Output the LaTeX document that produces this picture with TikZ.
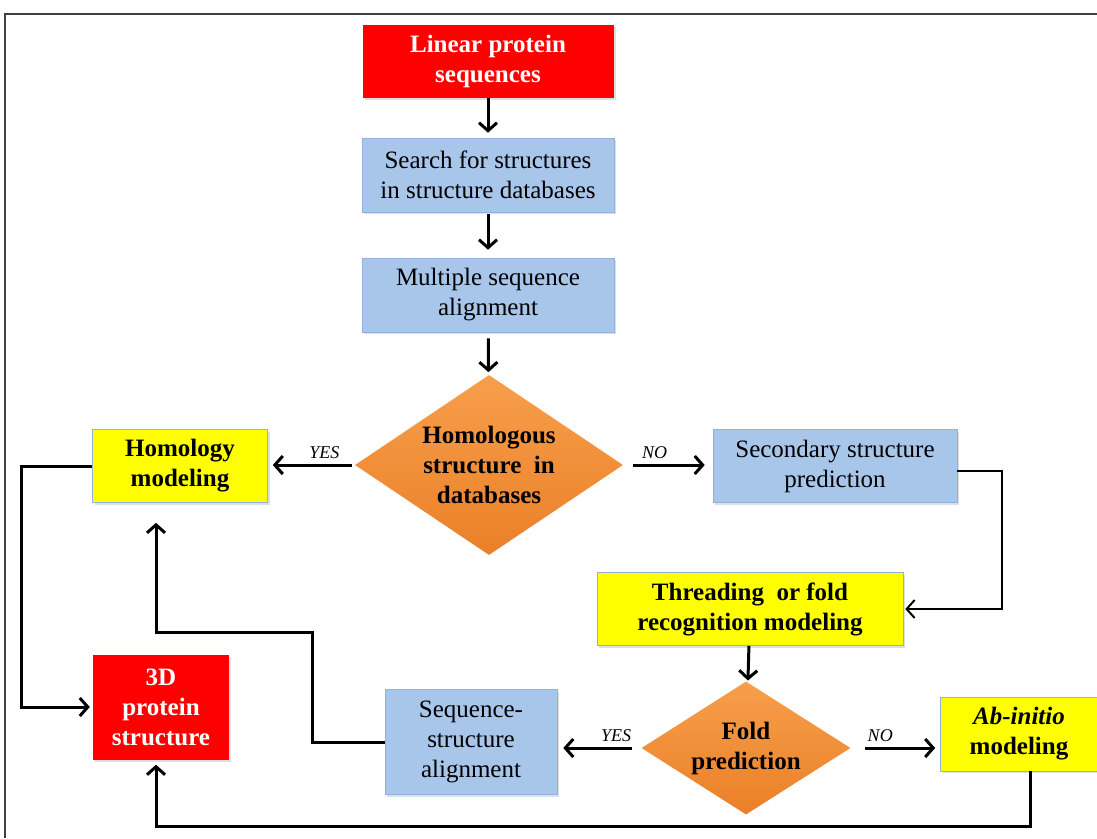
\documentclass[tikz,border=0pt]{standalone}
\usepackage{fontspec}
\setmainfont{Liberation Serif}
\usetikzlibrary{shapes.geometric, arrows.meta, positioning, shadows}
\definecolor{seqred}{RGB}{255, 0, 0}
\definecolor{stepblue}{RGB}{168, 197, 234}
\definecolor{edgeblue}{RGB}{145, 178, 218}
\definecolor{modyellow}{RGB}{255, 255, 0}
\definecolor{decorange}{RGB}{247, 150, 60}
\definecolor{decdark}{RGB}{234, 128, 40}

\tikzset{
  box/.style={rectangle, inner sep=2pt, align=center,
    font=\fontsize{25}{30}\selectfont,
    drop shadow={opacity=0.25, shadow xshift=2pt, shadow yshift=-2pt}},
  redbox/.style={box, fill=seqred, text=white, font=\fontsize{25}{30}\selectfont\bfseries},
  bluebox/.style={box, fill=stepblue, draw=edgeblue, line width=0.6pt},
  yellowbox/.style={box, fill=modyellow, draw=edgeblue, line width=0.6pt, font=\fontsize{25}{30}\selectfont\bfseries},
  decision/.style={diamond, inner sep=0pt, align=center, top color=decorange!92!white, bottom color=decdark,
    font=\fontsize{25}{30}\selectfont\bfseries},
  arr/.style={-{Straight Barb[length=8pt, width=18pt]}, line width=3pt},
  backlink/.style={-{Straight Barb[length=8pt, width=18pt]}, line width=3pt},
  lbl/.style={font=\fontsize{18}{20}\selectfont\itshape, inner sep=5pt}
}

\begin{document}
\begin{tikzpicture}[x=1pt, y=-1pt]
  \useasboundingbox (0,0) rectangle (1097,838);
  % frame
  \draw[line width=1.5pt, black!75] (5,838) -- (5,14) -- (1097,14);

  % main column
  \node[redbox, minimum width=251pt, minimum height=73pt] (lin) at (488,61) {Linear protein\\sequences};
  \node[bluebox, minimum width=252pt, minimum height=74pt] (search) at (488,175) {Search for structures\\in structure databases};
  \node[bluebox, minimum width=252pt, minimum height=74pt] (msa) at (488,295) {Multiple sequence\\alignment};
  \node[decision, aspect=1.49, minimum width=268pt, minimum height=180pt] (homq) at (489,465) {Homologous\\structure~ in\\databases};

  % first branch
  \node[yellowbox, minimum width=175pt, minimum height=73pt] (homol) at (180,466) {Homology\\modeling};
  \node[bluebox, minimum width=244pt, minimum height=73pt] (sec) at (835,466) {Secondary structure\\prediction};
  \node[yellowbox, minimum width=306pt, minimum height=73pt] (thread) at (750,609) {Threading~ or fold\\recognition modeling};
  \node[decision, aspect=1.57, minimum width=209pt, minimum height=133pt] (fold) at (746,748) {Fold\\prediction};

  % second branch
  \node[bluebox, minimum width=172pt, minimum height=105pt] (seqstr) at (471,742) {Sequence-\\structure\\alignment};
  \node[yellowbox, minimum width=157pt, minimum height=74pt] (abinit) at (1019,734) {\textit{Ab-initio}\\modeling};
  \node[redbox, minimum width=136pt, minimum height=105pt] (final) at (161,707) {3D\\protein\\structure};

  % connectors
  \draw[arr, shorten >=5pt] (lin) -- (search);
  \draw[arr, shorten <=2pt, shorten >=8pt] (search) -- (msa);
  \draw[arr, shorten <=6pt, shorten >=3pt] (msa) -- (homq);
  \draw[arr, shorten <=3pt, shorten >=5pt] (homq.west) -- node[lbl, above, pos=0.35] (yes1) {YES} (homol.east |- homq.west);
  \draw[arr, shorten <=10pt, shorten >=8pt] (homq.east) -- node[lbl, above, pos=0.35] (no1) {NO} (sec.west |- homq.east);
  \draw[arr, shorten >=2pt] (thread) -- (fold);
  \draw[arr, shorten <=9pt, shorten >=6pt] (fold.west) -- node[lbl, above, pos=0.3] (yes2) {YES} (seqstr.east |- fold.west);
  \draw[arr, shorten <=14pt, shorten >=5pt] (fold.east) -- node[lbl, above, pos=0.33] (no2) {NO} (abinit.west |- fold.east);

  % loops back
  \coordinate (hbend) at (156,632);
  \coordinate (abase) at (1030,826);
  \coordinate (hleft) at (21,466);
  \coordinate (sright) at (1002,471);
  \coordinate (sbend) at (312,742);
  \draw[backlink, shorten >=3pt] (homol.west) -- (hleft) |- (final.west);
  \draw[backlink, line width=2pt, shorten >=2pt] ([yshift=-5pt]sec.east) -- (sright) |- (thread.east);
  \draw[backlink] (seqstr.west) -- (sbend) |- (hbend) -- ([yshift=-20pt]hbend |- homol.south);
  \draw[backlink] (abinit.south -| abase) -- (abase) -| ([xshift=-5pt, yshift=-5pt]final.south);
\end{tikzpicture}
\end{document}
